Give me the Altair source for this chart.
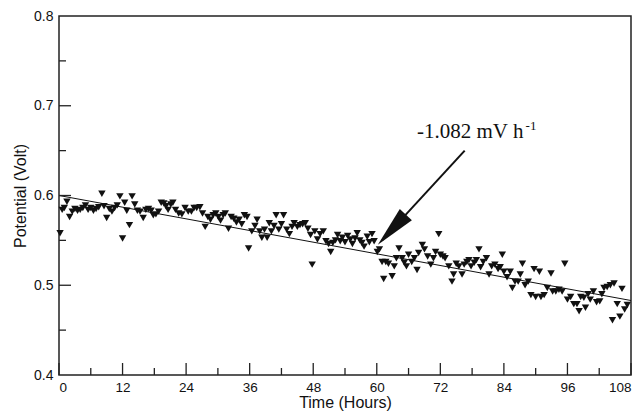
import altair as alt
import pandas as pd

# ---- data ----
hours = [0.2, 0.6, 1.0, 1.5, 2.0, 2.5, 3.0, 3.5, 4.0, 4.5, 5.0, 5.5, 6.0, 6.5, 7.0, 7.5,
         8.1, 8.5, 9.0, 9.5, 10.0, 10.5, 11.0, 11.5, 12.0, 12.4, 12.8, 13.3, 13.8, 14.3,
         14.8, 15.3, 15.9, 16.4, 16.9, 17.4, 17.8, 18.3, 18.8, 19.3, 19.8, 20.2, 20.6,
         21.1, 21.5, 22.0, 22.6, 23.2, 23.8, 24.4, 25.0, 25.5, 26.0, 26.6, 27.1, 27.6,
         28.1, 28.6, 29.1, 29.6, 30.1, 30.5, 31.0, 31.4, 32.0, 32.5, 33.0, 33.5, 34.0,
         34.5, 35.0, 35.5, 35.8, 36.4, 37.0, 37.4, 37.9, 38.3, 38.8, 39.3, 39.7, 40.1,
         40.6, 41.0, 41.5, 42.0, 42.4, 43.0, 43.5, 44.0, 44.4, 45.0, 45.5, 46.0, 46.5,
         47.0, 47.5, 47.8, 48.3, 48.8, 49.3, 49.9, 50.4, 50.9, 51.3, 51.7, 52.2, 52.6,
         53.1, 53.5, 54.0, 54.5, 55.0, 55.4, 55.9, 56.3, 56.8, 57.2, 57.6, 58.2, 58.6,
         59.1, 59.5, 60.1, 60.5, 61.0, 61.3, 61.7, 62.2, 62.9, 63.3, 63.7, 64.2, 64.8,
         65.2, 65.6, 66.0, 66.6, 67.1, 67.6, 67.9, 68.6, 69.0, 69.6, 70.2, 70.7, 71.1,
         71.7, 72.0, 72.5, 72.9, 73.6, 74.2, 74.5, 75.0, 75.5, 76.1, 76.5, 77.0, 77.4,
         77.8, 78.4, 78.8, 79.3, 79.6, 80.1, 80.7, 81.2, 81.7, 82.3, 82.9, 83.3, 83.7,
         84.0, 84.6, 85.2, 85.6, 86.1, 86.7, 87.1, 87.5, 88.0, 88.6, 89.1, 89.7, 90.0,
         90.7, 91.0, 91.6, 92.2, 92.9, 93.2, 93.8, 94.4, 95.0, 95.5, 96.0, 96.6, 97.2,
         97.8, 98.2, 98.5, 99.1, 99.4, 99.9, 100.3, 100.9, 101.5, 102.1, 102.5, 102.9,
         103.5, 104.1, 104.5, 104.8, 105.4, 105.9, 106.3, 106.8, 107.3]
potential = [0.558, 0.584, 0.586, 0.593, 0.576, 0.582, 0.585, 0.583, 0.584, 0.586, 0.589,
             0.584, 0.586, 0.583, 0.585, 0.587, 0.602, 0.588, 0.575, 0.585, 0.582, 0.586,
             0.589, 0.599, 0.552, 0.592, 0.583, 0.567, 0.599, 0.590, 0.583, 0.582, 0.575,
             0.584, 0.585, 0.583, 0.578, 0.579, 0.582, 0.592, 0.591, 0.588, 0.584, 0.590,
             0.592, 0.584, 0.580, 0.579, 0.586, 0.582, 0.582, 0.586, 0.586, 0.587, 0.580,
             0.565, 0.576, 0.573, 0.578, 0.580, 0.576, 0.572, 0.578, 0.580, 0.563, 0.576,
             0.574, 0.570, 0.573, 0.568, 0.578, 0.576, 0.541, 0.560, 0.566, 0.573, 0.560,
             0.553, 0.562, 0.553, 0.569, 0.560, 0.566, 0.578, 0.562, 0.568, 0.578, 0.562,
             0.557, 0.565, 0.569, 0.565, 0.567, 0.568, 0.569, 0.563, 0.556, 0.523, 0.560,
             0.551, 0.557, 0.560, 0.549, 0.546, 0.537, 0.547, 0.550, 0.556, 0.549, 0.553,
             0.548, 0.555, 0.551, 0.546, 0.552, 0.558, 0.550, 0.547, 0.543, 0.554, 0.548,
             0.557, 0.549, 0.537, 0.540, 0.526, 0.507, 0.526, 0.524, 0.510, 0.521, 0.530,
             0.541, 0.530, 0.525, 0.521, 0.534, 0.526, 0.530, 0.517, 0.536, 0.545, 0.540,
             0.532, 0.523, 0.530, 0.537, 0.557, 0.534, 0.532, 0.530, 0.521, 0.504, 0.512,
             0.524, 0.521, 0.512, 0.523, 0.526, 0.528, 0.521, 0.525, 0.528, 0.540, 0.520,
             0.526, 0.530, 0.512, 0.521, 0.523, 0.518, 0.520, 0.534, 0.515, 0.509, 0.515,
             0.497, 0.504, 0.504, 0.512, 0.524, 0.500, 0.504, 0.489, 0.518, 0.487, 0.515,
             0.487, 0.489, 0.497, 0.513, 0.493, 0.493, 0.495, 0.493, 0.524, 0.484, 0.487,
             0.479, 0.479, 0.471, 0.487, 0.486, 0.475, 0.490, 0.484, 0.493, 0.481, 0.482,
             0.490, 0.497, 0.498, 0.500, 0.461, 0.502, 0.479, 0.465, 0.496, 0.473, 0.478]

fit_hours = [0, 108]
fit_potential = [0.600, 0.483]

x_major = [0, 12, 24, 36, 48, 60, 72, 84, 96, 108]
x_minor = [6, 18, 30, 42, 54, 66, 78, 90, 102]
y_labels = [0.4, 0.5, 0.6, 0.7, 0.8]
y_major = [0.5, 0.6, 0.7]
y_minor = [0.45, 0.55, 0.65, 0.75]

annot_text = "-1.082 mV h"
annot_sup = "-1"

W, H = 572, 359
FONT = "Liberation Sans"
xs = alt.Scale(domain=[0, 108], nice=False, zero=False)
ys = alt.Scale(domain=[0.4, 0.8], nice=False, zero=False)
X_AXIS = alt.Axis(values=x_major, title="Time (Hours)", format="d",
                  ticks=False, domain=False, grid=False,
                  labelPadding=5, titlePadding=1, labelFontSize=13.5)
Y_AXIS = alt.Axis(values=y_labels, title="Potential (Volt)", format=".1f",
                  ticks=False, domain=False, grid=False,
                  labelPadding=6, titlePadding=5, labelFontSize=14)


def X(field="hours"):
    return alt.X(f"{field}:Q", scale=xs, axis=X_AXIS, title="Time (Hours)")


def Y(field="potential"):
    return alt.Y(f"{field}:Q", scale=ys, axis=Y_AXIS, title="Potential (Volt)")


df = pd.DataFrame({"hours": hours, "potential": potential})

points = alt.Chart(df).mark_point(
    shape="triangle-down", filled=True, color="#111111", size=55, opacity=1
).encode(x=X(), y=Y())

fit = alt.Chart(pd.DataFrame({"hours": fit_hours, "potential": fit_potential})).mark_line(
    color="#111111", strokeWidth=1
).encode(x=X(), y=Y())


def xticks(vals, length):
    return alt.Chart(pd.DataFrame({"hours": vals})).mark_rule(
        color="#222222", strokeWidth=1.3
    ).encode(x=X(), y=alt.value(H), y2=alt.value(H - length))


def yticks(vals, length):
    return alt.Chart(pd.DataFrame({"potential": vals})).mark_rule(
        color="#222222", strokeWidth=1.3
    ).encode(y=Y(), x=alt.value(0), x2=alt.value(length))


# arrow pointing at the fit line
arrow_df = pd.DataFrame({"hours": [76.6], "potential": [0.650],
                         "hours2": [61.0], "potential2": [0.550]})
arrow_line = alt.Chart(arrow_df).mark_rule(color="#111111", strokeWidth=2).encode(
    x=X(), y=Y(), x2="hours2:Q", y2="potential2:Q",
)
head_df = pd.DataFrame({"hours": [60.2], "potential": [0.545]})
arrow_head = alt.Chart(head_df).mark_point(
    shape="M0,0L0.4,2L-0.4,2Z", filled=True, color="#111111", opacity=1,
    size=1700, angle=222.8
).encode(x=X(), y=Y())

txt_df = pd.DataFrame({"hours": [67.6], "potential": [0.664], "label": [annot_text]})
txt = alt.Chart(txt_df).mark_text(
    font="Liberation Serif", fontSize=21, align="left", baseline="alphabetic",
    color="#111111"
).encode(x=X(), y=Y(), text="label:N")

sup_df = pd.DataFrame({"hours": [88.1], "potential": [0.673], "label": [annot_sup]})
sup = alt.Chart(sup_df).mark_text(
    font="Liberation Serif", fontSize=13, align="left", baseline="alphabetic",
    color="#111111"
).encode(x=X(), y=Y(), text="label:N")

chart = alt.layer(
    points, fit,
    xticks(x_major, 12), xticks(x_minor, 7),
    yticks(y_major, 12), yticks(y_minor, 7),
    arrow_line, arrow_head, txt, sup,
).properties(
    width=W, height=H,
    padding={"left": 59, "top": 16, "right": 10, "bottom": 37},
    autosize=alt.AutoSizeParams(type="none"),
    background="white",
).configure_view(
    stroke="#222222", strokeWidth=1.5
).configure_axis(
    labelFont=FONT, titleFont=FONT, titleFontSize=16,
    labelColor="#111111", titleColor="#111111", titleFontWeight="normal",
)

chart.save("out.html", embed_options={"renderer": "svg", "actions": False})
